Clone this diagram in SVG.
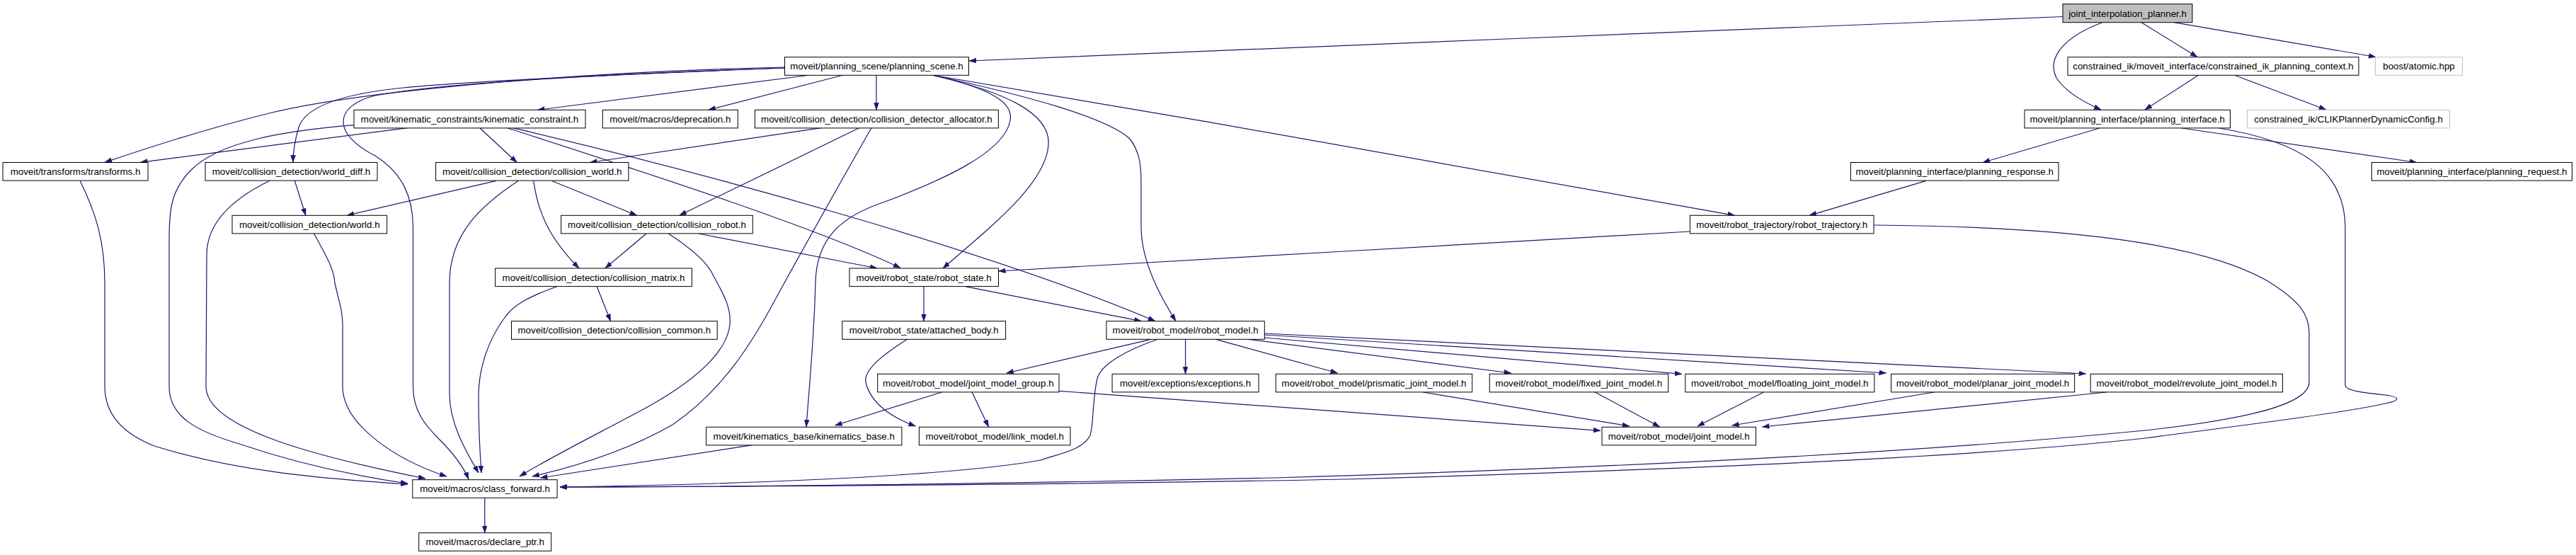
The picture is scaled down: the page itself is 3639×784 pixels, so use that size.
<svg xmlns="http://www.w3.org/2000/svg" width="3639" height="784" viewBox="0 0 3639 784">
<style>
.n rect{fill:#fff;stroke:#000;stroke-width:1}
.n.root rect{fill:#bfbfbf}
.n.ext rect{stroke:#bfbfbf}
.n text{font-family:"Liberation Sans",Arial,Helvetica,sans-serif;font-size:13.33px;text-anchor:middle;fill:#000}
.e path{fill:none;stroke:#191970;stroke-width:1.2;marker-end:url(#a)}
</style>
<defs>
<marker id="a" markerUnits="userSpaceOnUse" markerWidth="11" markerHeight="8" refX="10" refY="3.5" orient="auto">
<path d="M0,0 L10,3.5 L0,7 z" fill="#191970" stroke="#191970" stroke-width="0.5"/>
</marker>
</defs>
<rect x="0" y="0" width="3639" height="784" fill="#fff"/>
<g id="edges" class="e">
<path d="M2914,23.5 C2500,40 1800,68 1369,86"/>
<path d="M3025,31.7 L3104,80.5"/>
<path d="M3071,31.7 L3356,80.5"/>
<path d="M2970,31.7 C2920,50 2890,80 2905,110 C2918,130 2945,145 2968,155"/>
<path d="M3106,106 L3030,155"/>
<path d="M3156,106 L3286,155"/>
<path d="M2966,181 L2801,229.5"/>
<path d="M3082,181 L3414,229.5"/>
<path d="M3135,181 C3250,200 3312,240 3313,320 L3313,544 C3313,552 3340,555 3370,558 C3392,561 3390,566 3370,570 C3300,585 3150,603 3030,619 C2800,645 2400,663 1900,677 C1500,685 1100,687 791,688"/>
<path d="M2647,318 C2900,320 3100,340 3200,395 C3250,425 3262,445 3262,470 L3262,540 C3262,575 3150,595 3030,608 C2700,640 2300,660 1800,675 C1400,684 1000,688 791,688"/>
<path d="M2721,255.3 L2556,304.3"/>
<path d="M1108.5,95 C800,102 500,130 380,160 C280,185 200,212 148,229.3"/>
<path d="M1108.5,96 C850,106 650,115 560,125 C470,135 430,155 422,180 C416,200 414,215 414,229.3"/>
<path d="M1108.5,96 C850,105 620,118 530,135 C470,150 470,190 530,220 C570,245 583,280 583.5,320 L583.5,546 C583.5,580 600,600 620,620 C640,640 655,660 662,677"/>
<path d="M1144.6,106 L759.5,155.3"/>
<path d="M1191.3,106 L1000.7,155.3"/>
<path d="M1238,106 L1238,155.3"/>
<path d="M1316.7,106 C1420,130 1485,160 1481,205 C1477,260 1400,320 1332,379"/>
<path d="M1316.7,106 C1400,125 1432,145 1427,170 C1420,215 1330,255 1250,285 C1190,305 1153,335 1152,400 C1150,480 1142,560 1139,603"/>
<path d="M1316.7,106 C1450,135 1560,165 1595,195 C1612,215 1612,240 1612,260 L1612,320 C1612,370 1640,420 1661,453.5"/>
<path d="M1316.7,106 C1700,170 2200,258 2450.6,304.3"/>
<path d="M575.8,180.7 L198.4,229.3"/>
<path d="M677.8,180.7 L730.3,229.5"/>
<path d="M716.7,180.7 C900,240 1150,320 1272,378.5"/>
<path d="M724.5,180.7 C1000,245 1400,355 1631.8,453.5"/>
<path d="M500,176.7 C400,185 310,200 270,240 C240,270 239,300 239,340 L239,546 C239,590 280,610 338,627 C420,655 500,672 576,683"/>
<path d="M113,255.3 C135,300 148,340 148,400 L148,546 C148,590 180,615 218,630 C330,665 450,676 576,684"/>
<path d="M381,255.3 C320,285 292,320 292,360 L291,546 C291,600 420,640 601,676"/>
<path d="M416.3,255.3 L431.8,304.3"/>
<path d="M443.5,330 C460,360 472,380 473,400 C480,430 484,440 484,460 L484,546 C484,600 560,650 631,673"/>
<path d="M701,255.3 L490.2,304.3"/>
<path d="M779,255.3 L899.5,304.3"/>
<path d="M753.7,255.3 C760,300 775,335 818,379"/>
<path d="M732.3,255.3 C680,290 635,330 635,400 L635,556 C635,600 660,640 676,668"/>
<path d="M1160,180.7 L833.4,229.5"/>
<path d="M1213.6,180.7 L959.8,304.3"/>
<path d="M1231,180.7 C1180,270 1130,360 1105,405 C1070,470 1030,545 950,600 C880,640 800,662 752,673"/>
<path d="M913,330 L854.8,379"/>
<path d="M944.3,330 C975,350 1000,370 1008,390 C1025,420 1035,440 1030,465 C1020,510 960,550 911,577 C840,615 770,650 734,673"/>
<path d="M987,330 L1239,379"/>
<path d="M843.2,404.7 L862.6,453.7"/>
<path d="M786.7,404.7 C750,418 725,430 712,450 C690,480 676,520 676,560 C676,600 678,640 680,668"/>
<path d="M1063,628.7 L763.4,675"/>
<path d="M684.8,703.3 L684.8,752.7"/>
<path d="M1305,404.7 L1305,453.7"/>
<path d="M1363.4,404.7 L1612.4,453.7"/>
<path d="M2387.4,327 C2100,345 1700,365 1410.5,383"/>
<path d="M1281.7,479.3 C1240,505 1220,525 1223,540 C1230,570 1260,590 1293.4,602"/>
<path d="M1626,479.3 L1421.8,527"/>
<path d="M1674.6,479.3 L1674.6,528.3"/>
<path d="M1635.7,479.3 C1590,495 1555,515 1550,535 C1543,565 1545,600 1540,615 C1530,635 1500,640 1470,650 C1330,675 1000,685 791,688"/>
<path d="M1330.3,554 L1179.6,601"/>
<path d="M1373.1,554 L1396.5,603"/>
<path d="M1496,552.3 L2261,608.3"/>
<path d="M1717.4,479.3 L1889.5,527"/>
<path d="M1764,479.3 L2134.6,527"/>
<path d="M1786,477 L2375.8,528.3"/>
<path d="M1786,473 L2664.5,527"/>
<path d="M1786,471 L2946.6,528"/>
<path d="M2010,554 L2301.8,602"/>
<path d="M2253.2,554 L2344.6,603"/>
<path d="M2491.4,554 L2398,602"/>
<path d="M2732.6,554 L2446.7,601"/>
<path d="M2975.7,554 L2489.5,603"/>
</g>
<g id="n_root" class="n root"><rect x="2914" y="5.7" width="183" height="26"/><text x="3005.5" y="23.5">joint_interpolation_planner.h</text></g>
<g id="n_planning_scene" class="n"><rect x="1108.5" y="80.7" width="260" height="25.6"/><text x="1238.5" y="98.2">moveit/planning_scene/planning_scene.h</text></g>
<g id="n_ctx" class="n"><rect x="2921" y="80.7" width="411" height="25.6"/><text x="3126.5" y="98.2">constrained_ik/moveit_interface/constrained_ik_planning_context.h</text></g>
<g id="n_atomic" class="n ext"><rect x="3355.5" y="80.7" width="123" height="25.6"/><text x="3417" y="98.2">boost/atomic.hpp</text></g>
<g id="n_kin_constraint" class="n"><rect x="500" y="155.3" width="327" height="25.6"/><text x="663.5" y="172.8">moveit/kinematic_constraints/kinematic_constraint.h</text></g>
<g id="n_deprecation" class="n"><rect x="851.3" y="155.3" width="191" height="25.6"/><text x="946.8" y="172.8">moveit/macros/deprecation.h</text></g>
<g id="n_allocator" class="n"><rect x="1066.4" y="155.3" width="344" height="25.6"/><text x="1238.4" y="172.8">moveit/collision_detection/collision_detector_allocator.h</text></g>
<g id="n_planning_interface" class="n"><rect x="2860" y="155.3" width="290.5" height="25.6"/><text x="3005.2" y="172.8">moveit/planning_interface/planning_interface.h</text></g>
<g id="n_clik" class="n ext"><rect x="3174.5" y="155.3" width="286" height="25.6"/><text x="3317.5" y="172.8">constrained_ik/CLIKPlannerDynamicConfig.h</text></g>
<g id="n_transforms" class="n"><rect x="4" y="229.5" width="205" height="25.6"/><text x="106.5" y="247">moveit/transforms/transforms.h</text></g>
<g id="n_world_diff" class="n"><rect x="290" y="229.5" width="243" height="25.6"/><text x="411.5" y="247">moveit/collision_detection/world_diff.h</text></g>
<g id="n_collision_world" class="n"><rect x="615.6" y="229.5" width="272.3" height="25.6"/><text x="751.7" y="247">moveit/collision_detection/collision_world.h</text></g>
<g id="n_planning_response" class="n"><rect x="2614.4" y="229.5" width="293.6" height="25.6"/><text x="2761.2" y="247">moveit/planning_interface/planning_response.h</text></g>
<g id="n_planning_request" class="n"><rect x="3350.4" y="229.5" width="283" height="25.6"/><text x="3491.9" y="247">moveit/planning_interface/planning_request.h</text></g>
<g id="n_world" class="n"><rect x="328" y="304.3" width="218.6" height="25.6"/><text x="437.3" y="321.8">moveit/collision_detection/world.h</text></g>
<g id="n_collision_robot" class="n"><rect x="792.6" y="304.3" width="270.7" height="25.6"/><text x="928" y="321.8">moveit/collision_detection/collision_robot.h</text></g>
<g id="n_robot_trajectory" class="n"><rect x="2387.4" y="304.3" width="259.6" height="25.6"/><text x="2517.2" y="321.8">moveit/robot_trajectory/robot_trajectory.h</text></g>
<g id="n_collision_matrix" class="n"><rect x="699.6" y="379" width="277.8" height="25.6"/><text x="838.5" y="396.5">moveit/collision_detection/collision_matrix.h</text></g>
<g id="n_robot_state" class="n"><rect x="1200" y="379" width="210.5" height="25.6"/><text x="1305.2" y="396.5">moveit/robot_state/robot_state.h</text></g>
<g id="n_collision_common" class="n"><rect x="722.5" y="453.7" width="290.7" height="25.6"/><text x="867.8" y="471.2">moveit/collision_detection/collision_common.h</text></g>
<g id="n_attached_body" class="n"><rect x="1189.8" y="453.7" width="230.8" height="25.6"/><text x="1305.2" y="471.2">moveit/robot_state/attached_body.h</text></g>
<g id="n_robot_model" class="n"><rect x="1563" y="453.7" width="223.3" height="25.6"/><text x="1674.6" y="471.2">moveit/robot_model/robot_model.h</text></g>
<g id="n_jmg" class="n"><rect x="1239.7" y="528.3" width="256.3" height="25.6"/><text x="1367.8" y="545.8">moveit/robot_model/joint_model_group.h</text></g>
<g id="n_exceptions" class="n"><rect x="1571.1" y="528.3" width="207" height="25.6"/><text x="1674.6" y="545.8">moveit/exceptions/exceptions.h</text></g>
<g id="n_prismatic" class="n"><rect x="1802.3" y="528.3" width="277.4" height="25.6"/><text x="1941" y="545.8">moveit/robot_model/prismatic_joint_model.h</text></g>
<g id="n_fixed" class="n"><rect x="2104.2" y="528.3" width="252.5" height="25.6"/><text x="2230.4" y="545.8">moveit/robot_model/fixed_joint_model.h</text></g>
<g id="n_floating" class="n"><rect x="2380.8" y="528.3" width="267" height="25.6"/><text x="2514.3" y="545.8">moveit/robot_model/floating_joint_model.h</text></g>
<g id="n_planar" class="n"><rect x="2671.5" y="528.3" width="259.1" height="25.6"/><text x="2801" y="545.8">moveit/robot_model/planar_joint_model.h</text></g>
<g id="n_revolute" class="n"><rect x="2953.2" y="528.3" width="271.4" height="25.6"/><text x="3088.9" y="545.8">moveit/robot_model/revolute_joint_model.h</text></g>
<g id="n_kinematics_base" class="n"><rect x="997.6" y="603.3" width="276.3" height="25.6"/><text x="1135.7" y="620.8">moveit/kinematics_base/kinematics_base.h</text></g>
<g id="n_link_model" class="n"><rect x="1298.4" y="603.3" width="213.6" height="25.6"/><text x="1405.2" y="620.8">moveit/robot_model/link_model.h</text></g>
<g id="n_joint_model" class="n"><rect x="2263" y="603.3" width="217.5" height="25.6"/><text x="2371.7" y="620.8">moveit/robot_model/joint_model.h</text></g>
<g id="n_class_forward" class="n"><rect x="582.8" y="677.7" width="204.3" height="25.6"/><text x="685" y="695.2">moveit/macros/class_forward.h</text></g>
<g id="n_declare_ptr" class="n"><rect x="591.7" y="752.7" width="187" height="25.6"/><text x="685.2" y="770.2">moveit/macros/declare_ptr.h</text></g>
</svg>
